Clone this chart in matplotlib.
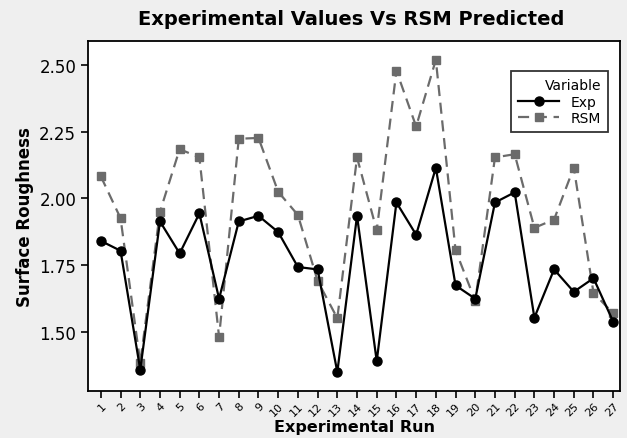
import matplotlib.pyplot as plt

# データ
runs = list(range(1, 28))
exp_vals = [1.841, 1.804, 1.358, 1.914, 1.794, 1.944, 1.624, 1.914, 1.935, 1.874,
            1.743, 1.734, 1.349, 1.935, 1.390, 1.985, 1.864, 2.115, 1.674, 1.624,
            1.985, 2.023, 1.553, 1.734, 1.650, 1.701, 1.538]
rsm_vals = [2.083, 1.926, 1.384, 1.950, 2.185, 2.154, 1.481, 2.224, 2.227, 2.025,
            1.938, 1.691, 1.551, 2.154, 1.880, 2.479, 2.270, 2.520, 1.806, 1.616,
            2.154, 2.166, 1.890, 1.921, 2.116, 1.646, 1.569]
yticks = [1.50, 1.75, 2.00, 2.25, 2.50]

bg = '#efefef'
fig = plt.figure(figsize=(6.27, 4.39), dpi=100, facecolor=bg)
ax = fig.add_axes([0.1404, 0.107, 0.8486, 0.797])

ax.plot(runs, exp_vals, color='black', lw=1.6, marker='o', ms=6.5, label='Exp', zorder=3)
ax.plot(runs, rsm_vals, color='#6b6b6b', lw=1.6, ls=(0, (5, 3)), marker='s', ms=6,
        label='RSM', zorder=2)

ax.set_xlim(0.35, 27.35)
ax.set_ylim(1.278, 2.59)
ax.set_yticks(yticks)
ax.set_yticklabels([f'{v:.2f}' for v in yticks], fontsize=12)
ax.set_xticks(runs)
ax.set_xticklabels([str(r) for r in runs], rotation=45, fontsize=8,
                   ha='right', rotation_mode='anchor')
ax.tick_params(axis='both', length=5, width=1.2, direction='out')
ax.tick_params(axis='x', pad=2)

for s in ax.spines.values():
    s.set_linewidth(1.3)

ax.set_xlabel('Experimental Run', fontsize=11.5, fontweight='bold', labelpad=1)
ax.set_ylabel('Surface Roughness', fontsize=12, fontweight='bold')
fig.suptitle('Experimental Values Vs RSM Predicted', fontsize=14, fontweight='bold',
             x=0.56, y=0.978)

leg = ax.legend(title='Variable', loc='upper right', bbox_to_anchor=(0.99, 0.935),
                fancybox=False, edgecolor='black', fontsize=10, title_fontsize=10,
                handlelength=3, borderpad=0.5, labelspacing=0.2)
leg.get_frame().set_linewidth(1.3)
leg._legend_box.align = 'right'

fig.savefig('out.png', dpi=100, facecolor=bg)
